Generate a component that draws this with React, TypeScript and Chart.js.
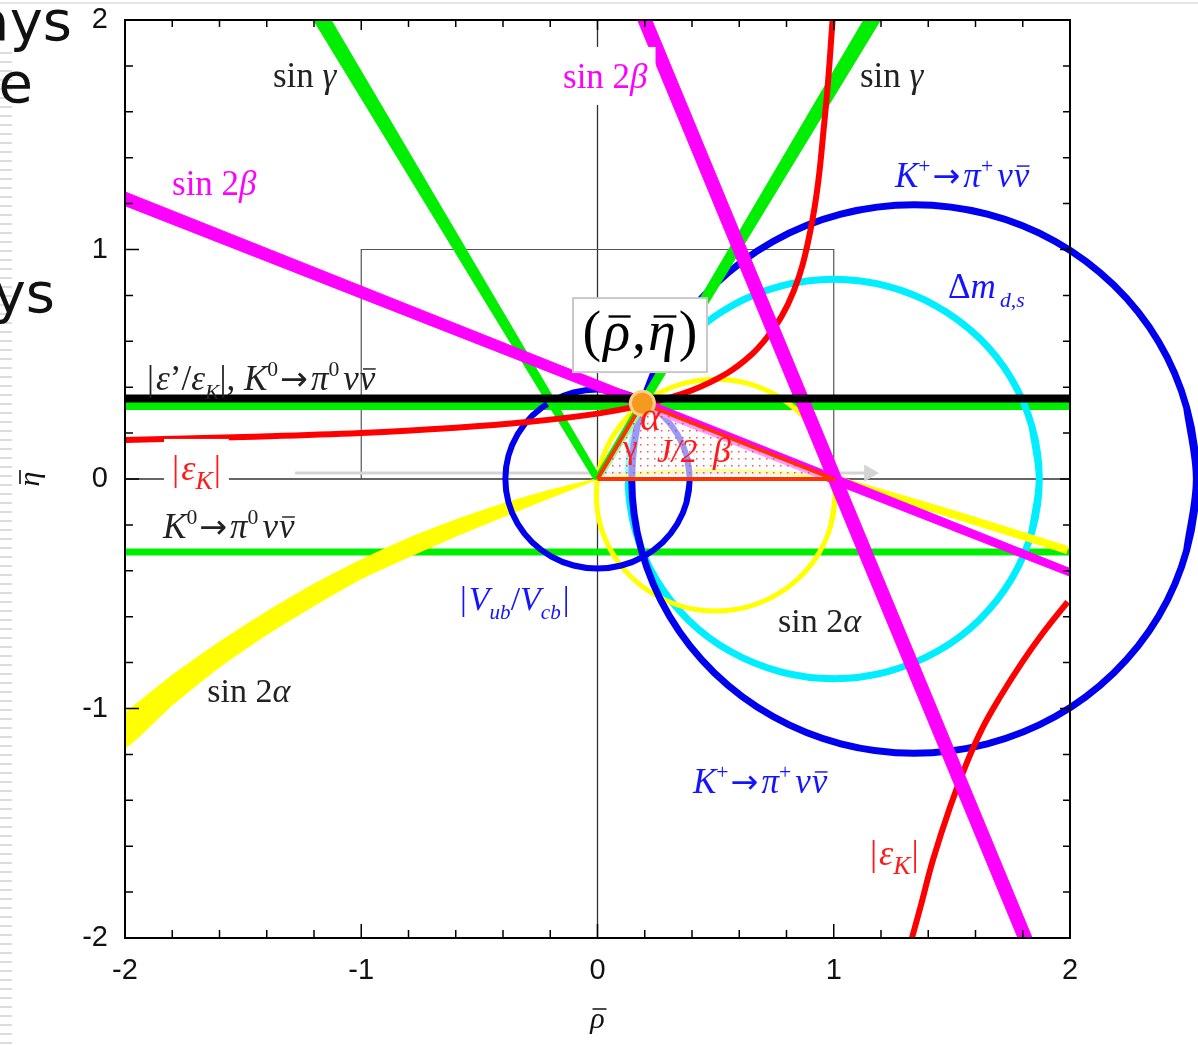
import React, { useEffect, useRef } from 'react';
import { Chart, registerables } from 'chart.js';

Chart.register(...registerables);

// ---------- axes ----------
const RHO_MIN = -2;
const RHO_MAX = 2;
const ETA_MIN = -2;
const ETA_MAX = 2;
const MINOR_STEP = 0.2;
const X_TICK_LABELS = ['-2', '-1', '0', '1', '2'];
const Y_TICK_LABELS = ['-2', '-1', '0', '1', '2'];
const X_TITLE = 'ρ';
const Y_TITLE = 'η';

// ---------- data (rho, eta) ----------
const zeroLineH = [[-2, 0], [2, 0]];
const zeroLineV = [[0, -2], [0, 2]];
const innerBox = [[-1, 0], [-1, 1], [1, 1], [1, 0]];
const grayArrow = [[-1.28, 0.026], [1.15, 0.026]];

const greenUpperH = [[-2, 0.318], [2, 0.318]];
const greenLowerH = [[-2, -0.318], [2, -0.318]];
const blackH = [[-2, 0.351], [2, 0.351]];

const cyanCircle = [
  [1.84, -0.225], [1.87, 0], [1.84, 0.225], [1.753, 0.435], [1.615, 0.615], [1.435, 0.753], [1.225, 0.84],
  [1, 0.87], [0.775, 0.84], [0.565, 0.753], [0.385, 0.615], [0.247, 0.435], [0.16, 0.225], [0.13, 0],
  [0.16, -0.225], [0.247, -0.435], [0.385, -0.615], [0.565, -0.753], [0.775, -0.84], [1, -0.87],
  [1.225, -0.84], [1.435, -0.753], [1.615, -0.615], [1.753, -0.435], [1.84, -0.225], [1.87, 0], [1.84, 0.225],
];

const yellowCircle = [
  [0.988, -0.201], [1.005, -0.07], [0.988, 0.061], [0.937, 0.183], [0.857, 0.287], [0.753, 0.367], [0.631, 0.418],
  [0.5, 0.435], [0.369, 0.418], [0.247, 0.367], [0.143, 0.287], [0.063, 0.183], [0.012, 0.061], [-0.005, -0.07],
  [0.012, -0.201], [0.063, -0.323], [0.143, -0.427], [0.247, -0.507], [0.369, -0.558], [0.5, -0.575],
  [0.631, -0.558], [0.753, -0.507], [0.857, -0.427], [0.937, -0.323], [0.988, -0.201], [1.005, -0.07], [0.988, 0.061],
];

const yellowInner = [[0, 0], [0.25, 0.03], [0.5, 0.038], [0.75, 0.028], [1, 0]];
const yellowRight = [[1, 0], [1.5, -0.152], [1.99, -0.31]];

const yellowBand = [
  [-2.0, -1.02], [-1.8, -0.855], [-1.6, -0.71], [-1.4, -0.578], [-1.2, -0.458], [-1.0, -0.352],
  [-0.8, -0.258], [-0.6, -0.178], [-0.4, -0.108], [-0.2, -0.048], [0, 0],
  [-0.2, -0.082], [-0.4, -0.165], [-0.6, -0.25], [-0.8, -0.34], [-1.0, -0.435], [-1.2, -0.552],
  [-1.4, -0.678], [-1.6, -0.82], [-1.8, -0.985], [-2.0, -1.17], [-2.0, -1.02],
];

const vubCircle = [
  [0.377, -0.101], [0.39, 0], [0.377, 0.101], [0.338, 0.195], [0.276, 0.276], [0.195, 0.338], [0.101, 0.377],
  [0, 0.39], [-0.101, 0.377], [-0.195, 0.338], [-0.276, 0.276], [-0.338, 0.195], [-0.377, 0.101], [-0.39, 0],
  [-0.377, -0.101], [-0.338, -0.195], [-0.276, -0.276], [-0.195, -0.338], [-0.101, -0.377], [0, -0.39],
  [0.101, -0.377], [0.195, -0.338], [0.276, -0.276], [0.338, -0.195], [0.377, -0.101], [0.39, 0], [0.377, 0.101],
];

const kPlusCircle = [
  [2.494, -0.31], [2.535, 0], [2.494, 0.31], [2.375, 0.598], [2.185, 0.845], [1.938, 1.035], [1.65, 1.154],
  [1.34, 1.195], [1.03, 1.154], [0.743, 1.035], [0.495, 0.845], [0.305, 0.598], [0.186, 0.31], [0.145, 0],
  [0.186, -0.31], [0.305, -0.598], [0.495, -0.845], [0.743, -1.035], [1.03, -1.154], [1.34, -1.195],
  [1.65, -1.154], [1.938, -1.035], [2.185, -0.845], [2.375, -0.598], [2.494, -0.31], [2.535, 0], [2.494, 0.31],
];

const greenLeftBand = [[-1.202, 2.0], [-1.128, 2.0], [0.016, 0], [-0.016, 0], [-1.202, 2.0]];
const greenRightBand = [[-0.016, 0], [1.127, 2.0], [1.198, 2.0], [0.016, 0], [-0.016, 0]];

const redUpper = [
  [-2, 0.17], [-1.5, 0.183], [-1, 0.2], [-0.6, 0.223], [-0.3, 0.248], [0, 0.285], [0.2, 0.325], [0.4, 0.387],
  [0.55, 0.462], [0.65, 0.54], [0.72, 0.62], [0.78, 0.71], [0.83, 0.818], [0.87, 0.94], [0.91, 1.13],
  [0.935, 1.3], [0.955, 1.5], [0.975, 1.72], [0.995, 2.0],
];
const redLower = [
  [1.331, -2.0], [1.367, -1.865], [1.42, -1.66], [1.492, -1.43], [1.563, -1.237], [1.632, -1.08],
  [1.704, -0.95], [1.8, -0.795], [1.886, -0.67], [1.99, -0.535],
];

const magentaABand = [[-2, 1.251], [2, -0.39], [2, -0.424], [-2, 1.191], [-2, 1.251]];
const magentaBBand = [[0.17, 2.0], [0.23, 2.0], [1.84, -2.0], [1.78, -2.0], [0.17, 2.0]];

const triangle = [[0, 0], [0.19, 0.33], [1, 0], [0, 0]];
const apex = [[0.19, 0.33]];

// ---------- text ----------
const SERIF = '"Liberation Serif", "Times New Roman", serif';
const ARROW_FONT = '"DejaVu Sans", sans-serif';
const SIN_G = [{ t: 'sin ' }, { t: 'γ', it: true }];
const SIN_2B = [{ t: 'sin 2' }, { t: 'β', it: true }];
const SIN_2A = [{ t: 'sin 2' }, { t: 'α', it: true }];
const K_PLUS = [
  { t: 'K', it: true }, { t: '+', sup: true, gap: 2 }, { t: '→', ff: ARROW_FONT, sc: 0.95, gap: 3 }, { t: 'π', it: true },
  { t: '+', sup: true, gap: 4 }, { t: 'ν', it: true, gap: 1 }, { t: 'ν', it: true, ov: true },
];
const K_ZERO = [
  { t: 'K', it: true }, { t: '0', sup: true, gap: 2 }, { t: '→', ff: ARROW_FONT, sc: 0.95, gap: 3 }, { t: 'π', it: true },
  { t: '0', sup: true, gap: 4 }, { t: 'ν', it: true, gap: 1 }, { t: 'ν', it: true, ov: true },
];
const EPS_K = [{ t: '|', gap: 2 }, { t: 'ε', it: true }, { t: 'K', it: true, sub: true, ss: 0.72, gap: 1 }, { t: '|' }];
const EPS_RATIO = [
  { t: '|', gap: 2 }, { t: 'ε', it: true }, { t: '’' }, { t: '/' }, { t: 'ε', it: true }, { t: 'K', it: true, sub: true },
  { t: '|, ' }, ...K_ZERO,
];
const VUB = [
  { t: '|', gap: 2 }, { t: 'V', it: true }, { t: 'ub', it: true, sub: true }, { t: '/' }, { t: 'V', it: true },
  { t: 'cb', it: true, sub: true, gap: 2 }, { t: '|' },
];
const DELTA_M = [{ t: 'Δ' }, { t: 'm', it: true, gap: 4 }, { t: 'd,s', it: true, sub: true }];

const BLACK = '#222';
const MAG = '#ff00ff';
const BLUE = '#1414ff';
const RED = '#ff1a1a';

const LABELS = [
  { x: -1.374, y: 1.708, color: BLACK, size: 35, runs: SIN_G },
  { x: -0.146, y: 1.704, color: MAG, size: 35, runs: SIN_2B, bg: true },
  { x: 1.111, y: 1.708, color: BLACK, size: 35, runs: SIN_G },
  { x: -1.801, y: 1.237, color: MAG, size: 35, runs: SIN_2B },
  { x: 1.259, y: 1.272, color: BLUE, size: 35, runs: K_PLUS },
  { x: 1.484, y: 0.789, color: BLUE, size: 35, runs: DELTA_M },
  { x: -1.907, y: 0.388, color: BLACK, size: 35, runs: EPS_RATIO },
  { x: -1.801, y: -0.004, color: RED, size: 36, runs: EPS_K, bg: true },
  { x: -1.839, y: -0.257, color: BLACK, size: 35, runs: K_ZERO },
  { x: -0.582, y: -0.571, color: BLUE, size: 34, runs: VUB },
  { x: 0.764, y: -0.667, color: BLACK, size: 34, runs: SIN_2A },
  { x: -1.652, y: -0.972, color: BLACK, size: 34, runs: SIN_2A },
  { x: 0.404, y: -1.368, color: BLUE, size: 35, runs: K_PLUS },
  { x: 1.153, y: -1.682, color: RED, size: 36, runs: EPS_K },
  { x: 0.18, y: 0.213, color: RED, size: 40, runs: [{ t: 'α', it: true }] },
  { x: 0.108, y: 0.092, color: RED, size: 33, runs: [{ t: 'γ' }] },
  { x: 0.252, y: 0.074, color: RED, size: 33, runs: [{ t: 'J/2', it: true }] },
  { x: 0.489, y: 0.074, color: RED, size: 36, runs: [{ t: 'β', it: true }] },
];

const BOX_LABEL = {
  x: 0.18, y: 0.627, size: 56, w: 134, h: 74,
  runs: [
    { t: '(', gap: 2 }, { t: 'ρ', it: true, ov: true, gap: 2 }, { t: ',', gap: 2 },
    { t: 'η', it: true, ov: true, gap: 3 }, { t: ')' },
  ],
};

// ---------- drawing helpers ----------
function runSize(r, base) {
  if (r.sub || r.sup) return base * (r.ss || 0.62);
  return base * (r.sc || 1);
}
function runFont(r, base) {
  return `${r.it ? 'italic ' : ''}${runSize(r, base)}px ${r.ff || SERIF}`;
}
function measureRuns(ctx, runs, base) {
  let w = 0;
  for (const r of runs) {
    ctx.font = runFont(r, base);
    w += ctx.measureText(r.t).width + (r.gap || 0);
  }
  return w;
}
function drawRuns(ctx, runs, x, y, base, color) {
  ctx.fillStyle = color;
  ctx.strokeStyle = color;
  ctx.textAlign = 'left';
  ctx.textBaseline = 'alphabetic';
  let cx = x;
  for (const r of runs) {
    ctx.font = runFont(r, base);
    const dy = r.sup ? -base * 0.4 : r.sub ? base * 0.25 : 0;
    ctx.fillText(r.t, cx, y + dy);
    const w = ctx.measureText(r.t).width;
    if (r.ov) {
      ctx.lineWidth = Math.max(1.2, base / 24);
      ctx.beginPath();
      ctx.moveTo(cx + w * 0.2, y + dy - base * 0.6);
      ctx.lineTo(cx + w * 1.02, y + dy - base * 0.6);
      ctx.stroke();
    }
    cx += w + (r.gap || 0);
  }
}

const overlayPlugin = {
  id: 'overlay',
  afterDatasetsDraw(chart) {
    const { ctx, chartArea: a } = chart;
    const xs = chart.scales.x;
    const ys = chart.scales.y;
    ctx.save();

    for (const l of LABELS) {
      const px = xs.getPixelForValue(l.x);
      const py = ys.getPixelForValue(l.y);
      if (l.bg) {
        const w = measureRuns(ctx, l.runs, l.size);
        ctx.fillStyle = '#fff';
        ctx.fillRect(px - 8, py - 41, w + 16, 58);
      }
      drawRuns(ctx, l.runs, px, py, l.size, l.color);
    }

    // (rho, eta) box
    {
      const cx = xs.getPixelForValue(BOX_LABEL.x);
      const cy = ys.getPixelForValue(BOX_LABEL.y);
      ctx.fillStyle = '#fff';
      ctx.fillRect(cx - BOX_LABEL.w / 2, cy - BOX_LABEL.h / 2, BOX_LABEL.w, BOX_LABEL.h);
      ctx.strokeStyle = '#c8c8c8';
      ctx.lineWidth = 2;
      ctx.strokeRect(cx - BOX_LABEL.w / 2, cy - BOX_LABEL.h / 2, BOX_LABEL.w, BOX_LABEL.h);
      const w = measureRuns(ctx, BOX_LABEL.runs, BOX_LABEL.size);
      drawRuns(ctx, BOX_LABEL.runs, cx - w / 2, cy + 15, BOX_LABEL.size, '#000');
    }

    // bars over the axis titles (rho-bar, eta-bar)
    ctx.strokeStyle = '#111';
    ctx.lineWidth = 1.6;
    ctx.beginPath();
    const tx = (a.left + a.right) / 2;
    const tyX = xs.bottom - 18 - 7;
    ctx.moveTo(tx - 5, tyX - 11);
    ctx.lineTo(tx + 9, tyX - 11);
    const ty = (a.top + a.bottom) / 2;
    const txY = ys.left + 18 + 13;
    ctx.moveTo(txY - 11, ty + 5);
    ctx.lineTo(txY - 11, ty - 9);
    ctx.stroke();

    // frame
    ctx.strokeStyle = '#000';
    ctx.lineWidth = 2;
    ctx.strokeRect(a.left, a.top, a.right - a.left, a.bottom - a.top);

    // inward ticks
    ctx.lineWidth = 1.5;
    ctx.beginPath();
    const isMajor = (v) => Math.abs(v - Math.round(v)) < 1e-6;
    for (const t of xs.ticks) {
      const px = xs.getPixelForValue(t.value);
      const m = isMajor(t.value);
      ctx.moveTo(px, a.bottom);
      ctx.lineTo(px, a.bottom - (m ? 14 : 8));
      ctx.moveTo(px, a.top);
      ctx.lineTo(px, a.top + (m ? 10 : 7));
    }
    for (const t of ys.ticks) {
      const py = ys.getPixelForValue(t.value);
      const m = isMajor(t.value);
      ctx.moveTo(a.left, py);
      ctx.lineTo(a.left + (m ? 14 : 8), py);
      ctx.moveTo(a.right, py);
      ctx.lineTo(a.right - (m ? 10 : 7), py);
    }
    ctx.stroke();
    ctx.restore();
  },
};

const pts = (arr) => arr.map(([x, y]) => ({ x, y }));

function makePattern(ctx) {
  const c = document.createElement('canvas');
  c.width = 7;
  c.height = 7;
  const p = c.getContext('2d');
  p.fillStyle = 'rgba(255,255,255,0.6)';
  p.fillRect(0, 0, 7, 7);
  p.fillStyle = 'rgba(255,50,50,0.85)';
  p.fillRect(3, 3, 1.5, 1.5);
  return ctx.createPattern(c, 'repeat');
}

export default function App() {
  const ref = useRef(null);

  useEffect(() => {
    const canvas = ref.current;
    const ctx = canvas.getContext('2d');
    const pattern = makePattern(ctx);

    const line = (data, color, width, extra = {}) => ({
      data: pts(data), showLine: true, borderColor: color, borderWidth: width,
      pointRadius: 0, fill: false, tension: 0, clip: 0, ...extra,
    });
    const band = (data, color, extra = {}) => ({
      data: pts(data), showLine: true, borderColor: color, borderWidth: 1, backgroundColor: color,
      fill: 'shape', pointRadius: 0, tension: 0, clip: 0, ...extra,
    });
    const CIRC = 0.34;

    const bottomToTop = [
      line(zeroLineH, '#333', 1.3),
      line(zeroLineV, '#333', 1.3),
      line(innerBox, '#555', 1.2),
      line(grayArrow, '#d4d4d4', 3, {
        pointRadius: [0, 9], pointStyle: 'triangle', pointRotation: 90,
        pointBackgroundColor: '#d4d4d4', pointBorderColor: '#d4d4d4', pointBorderWidth: 1,
      }),
      line(greenUpperH, '#00ee00', 8),
      line(greenLowerH, '#00ee00', 7),
      line(cyanCircle, '#00eeff', 7, { tension: CIRC }),
      line(yellowCircle, '#ffff00', 5, { tension: CIRC }),
      line(yellowInner, '#ffff00', 3, { tension: 0.3 }),
      line(yellowRight, '#ffff00', 8, { tension: 0.2 }),
      band(yellowBand, '#ffff00', { tension: 0.2 }),
      line(vubCircle, '#0000ee', 6, { tension: CIRC }),
      line(kPlusCircle, '#0000ee', 7, { tension: CIRC, clip: { left: 0, top: 0, right: false, bottom: 0 } }),
      band(greenLeftBand, '#00ee00'),
      band(greenRightBand, '#00ee00'),
      line(redUpper, '#ff0000', 6, { tension: 0.4 }),
      line(redLower, '#ff0000', 6, { tension: 0.4 }),
      band(magentaABand, '#ff00ff'),
      band(magentaBBand, '#ff00ff'),
      line(blackH, '#000000', 8),
      {
        data: pts(triangle), showLine: true, borderColor: '#ff3300', borderWidth: 4,
        backgroundColor: pattern, fill: 'shape', pointRadius: 0, tension: 0, clip: 0,
        borderJoinStyle: 'round',
      },
      {
        data: pts(apex), showLine: false, pointRadius: 12, pointBackgroundColor: '#f49b1f',
        pointBorderColor: '#ffcf87', pointBorderWidth: 3, clip: false,
      },
    ];
    const datasets = bottomToTop.map((d, i) => ({ ...d, order: -i }));

    const tickCb = (labels) => (v) => {
      const r = Math.round(v);
      return Math.abs(v - r) < 1e-6 ? labels[r + 2] : '';
    };

    const chart = new Chart(ctx, {
      type: 'scatter',
      data: { datasets },
      options: {
        animation: false,
        responsive: false,
        maintainAspectRatio: false,
        layout: { padding: { left: 0, top: 20, right: 128, bottom: 0 } },
        plugins: { legend: { display: false }, tooltip: { enabled: false }, title: { display: false } },
        elements: { line: { capBezierPoints: false } },
        scales: {
          x: {
            type: 'linear', min: RHO_MIN, max: RHO_MAX,
            afterFit: (s) => { s.height = 107; s.paddingLeft = 0; s.paddingRight = 0; },
            grid: { display: false, drawTicks: false },
            border: { display: false },
            ticks: {
              stepSize: MINOR_STEP, autoSkip: false, maxRotation: 0, padding: 16, color: '#111',
              font: { family: '"Liberation Sans", Arial, sans-serif', size: 29 },
              callback: tickCb(X_TICK_LABELS),
            },
            title: {
              display: true, text: X_TITLE, color: '#111',
              font: { family: SERIF, size: 30, style: 'italic' },
              padding: { top: 0, bottom: 7 },
            },
          },
          y: {
            type: 'linear', min: ETA_MIN, max: ETA_MAX,
            afterFit: (s) => { s.width = 125; s.paddingTop = 0; s.paddingBottom = 0; },
            grid: { display: false, drawTicks: false },
            border: { display: false },
            ticks: {
              stepSize: MINOR_STEP, autoSkip: false, padding: 17, color: '#111',
              font: { family: '"Liberation Sans", Arial, sans-serif', size: 29 },
              callback: tickCb(Y_TICK_LABELS),
            },
            title: {
              display: true, text: Y_TITLE, color: '#111',
              font: { family: SERIF, size: 30, style: 'italic' },
              padding: { top: 13, bottom: 0 },
            },
          },
        },
      },
      plugins: [overlayPlugin],
    });
    return () => chart.destroy();
  }, []);

  const side = { position: 'absolute', font: '56px "DejaVu Sans", Verdana, sans-serif', lineHeight: '56px', color: '#111', whiteSpace: 'nowrap' };

  return (
    <div style={{ position: 'absolute', left: 0, top: 0, width: 1198, height: 1045, overflow: 'hidden', background: '#fff' }}>
      <div style={{ position: 'absolute', left: 0, top: 2, width: 1198, height: 2, background: '#e6e6e6' }} />
      <div style={{ position: 'absolute', left: 0, top: 52, width: 12, height: 993, background: 'repeating-linear-gradient(to bottom, #dcdcdc 0px, #dcdcdc 2px, transparent 2px, transparent 9px)' }} />
      <div style={{ ...side, right: 1198 - 72, top: -7 }}>ays</div>
      <div style={{ ...side, right: 1198 - 33, top: 55 }}>e</div>
      <div style={{ ...side, right: 1198 - 55, top: 265 }}>ys</div>
      <canvas ref={ref} width={1198} height={1045} style={{ position: 'absolute', left: 0, top: 0, width: 1198, height: 1045 }} />
    </div>
  );
}
